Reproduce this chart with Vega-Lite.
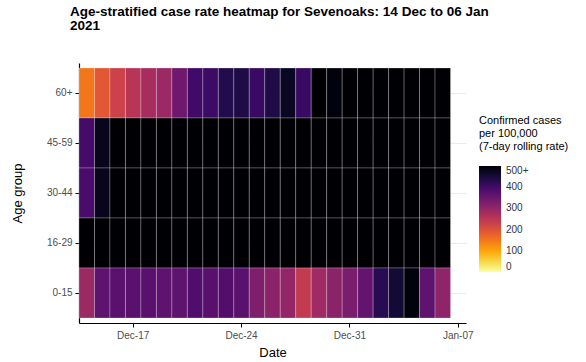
{
  "$schema": "https://vega.github.io/schema/vega-lite/v6.json",
  "width": 387,
  "height": 260,
  "autosize": {"type": "none"},
  "padding": {"left": 79, "top": 63, "right": 120, "bottom": 39},
  "background": "white",
  "config": {
    "view": {"stroke": null},
    "font": "Liberation Sans"
  },
  "title": {
    "text": ["Age-stratified case rate heatmap for Sevenoaks: 14 Dec to 06 Jan", "2021"],
    "anchor": "start",
    "frame": "group",
    "dx": -9,
    "offset": 31,
    "fontSize": 13.5,
    "fontWeight": "bold",
    "lineHeight": 13.5,
    "color": "black",
    "font": "Liberation Sans"
  },
  "datasets": {
    "cases": [
      {"date":"Dec-14","age":"60+","rate":150},{"date":"Dec-15","age":"60+","rate":190},{"date":"Dec-16","age":"60+","rate":225},{"date":"Dec-17","age":"60+","rate":255},{"date":"Dec-18","age":"60+","rate":275},{"date":"Dec-19","age":"60+","rate":290},{"date":"Dec-20","age":"60+","rate":345},{"date":"Dec-21","age":"60+","rate":400},{"date":"Dec-22","age":"60+","rate":405},{"date":"Dec-23","age":"60+","rate":435},{"date":"Dec-24","age":"60+","rate":440},{"date":"Dec-25","age":"60+","rate":410},{"date":"Dec-26","age":"60+","rate":440},{"date":"Dec-27","age":"60+","rate":470},{"date":"Dec-28","age":"60+","rate":410},{"date":"Dec-29","age":"60+","rate":520},{"date":"Dec-30","age":"60+","rate":490},{"date":"Dec-31","age":"60+","rate":530},{"date":"Jan-01","age":"60+","rate":545},{"date":"Jan-02","age":"60+","rate":560},{"date":"Jan-03","age":"60+","rate":575},{"date":"Jan-04","age":"60+","rate":560},{"date":"Jan-05","age":"60+","rate":540},{"date":"Jan-06","age":"60+","rate":530},
      {"date":"Dec-14","age":"45-59","rate":395},{"date":"Dec-15","age":"45-59","rate":475},{"date":"Dec-16","age":"45-59","rate":540},{"date":"Dec-17","age":"45-59","rate":600},{"date":"Dec-18","age":"45-59","rate":650},{"date":"Dec-19","age":"45-59","rate":700},{"date":"Dec-20","age":"45-59","rate":740},{"date":"Dec-21","age":"45-59","rate":780},{"date":"Dec-22","age":"45-59","rate":800},{"date":"Dec-23","age":"45-59","rate":820},{"date":"Dec-24","age":"45-59","rate":850},{"date":"Dec-25","age":"45-59","rate":870},{"date":"Dec-26","age":"45-59","rate":880},{"date":"Dec-27","age":"45-59","rate":890},{"date":"Dec-28","age":"45-59","rate":900},{"date":"Dec-29","age":"45-59","rate":910},{"date":"Dec-30","age":"45-59","rate":900},{"date":"Dec-31","age":"45-59","rate":880},{"date":"Jan-01","age":"45-59","rate":860},{"date":"Jan-02","age":"45-59","rate":840},{"date":"Jan-03","age":"45-59","rate":800},{"date":"Jan-04","age":"45-59","rate":760},{"date":"Jan-05","age":"45-59","rate":720},{"date":"Jan-06","age":"45-59","rate":690},
      {"date":"Dec-14","age":"30-44","rate":390},{"date":"Dec-15","age":"30-44","rate":475},{"date":"Dec-16","age":"30-44","rate":545},{"date":"Dec-17","age":"30-44","rate":610},{"date":"Dec-18","age":"30-44","rate":660},{"date":"Dec-19","age":"30-44","rate":710},{"date":"Dec-20","age":"30-44","rate":750},{"date":"Dec-21","age":"30-44","rate":790},{"date":"Dec-22","age":"30-44","rate":820},{"date":"Dec-23","age":"30-44","rate":840},{"date":"Dec-24","age":"30-44","rate":860},{"date":"Dec-25","age":"30-44","rate":880},{"date":"Dec-26","age":"30-44","rate":900},{"date":"Dec-27","age":"30-44","rate":910},{"date":"Dec-28","age":"30-44","rate":920},{"date":"Dec-29","age":"30-44","rate":930},{"date":"Dec-30","age":"30-44","rate":920},{"date":"Dec-31","age":"30-44","rate":900},{"date":"Jan-01","age":"30-44","rate":870},{"date":"Jan-02","age":"30-44","rate":840},{"date":"Jan-03","age":"30-44","rate":800},{"date":"Jan-04","age":"30-44","rate":760},{"date":"Jan-05","age":"30-44","rate":730},{"date":"Jan-06","age":"30-44","rate":700},
      {"date":"Dec-14","age":"16-29","rate":620},{"date":"Dec-15","age":"16-29","rate":680},{"date":"Dec-16","age":"16-29","rate":740},{"date":"Dec-17","age":"16-29","rate":800},{"date":"Dec-18","age":"16-29","rate":860},{"date":"Dec-19","age":"16-29","rate":920},{"date":"Dec-20","age":"16-29","rate":980},{"date":"Dec-21","age":"16-29","rate":1020},{"date":"Dec-22","age":"16-29","rate":1060},{"date":"Dec-23","age":"16-29","rate":1090},{"date":"Dec-24","age":"16-29","rate":1110},{"date":"Dec-25","age":"16-29","rate":1120},{"date":"Dec-26","age":"16-29","rate":1130},{"date":"Dec-27","age":"16-29","rate":1140},{"date":"Dec-28","age":"16-29","rate":1130},{"date":"Dec-29","age":"16-29","rate":1110},{"date":"Dec-30","age":"16-29","rate":1080},{"date":"Dec-31","age":"16-29","rate":1040},{"date":"Jan-01","age":"16-29","rate":990},{"date":"Jan-02","age":"16-29","rate":940},{"date":"Jan-03","age":"16-29","rate":880},{"date":"Jan-04","age":"16-29","rate":830},{"date":"Jan-05","age":"16-29","rate":780},{"date":"Jan-06","age":"16-29","rate":740},
      {"date":"Dec-14","age":"0-15","rate":290},{"date":"Dec-15","age":"0-15","rate":365},{"date":"Dec-16","age":"0-15","rate":370},{"date":"Dec-17","age":"0-15","rate":370},{"date":"Dec-18","age":"0-15","rate":370},{"date":"Dec-19","age":"0-15","rate":365},{"date":"Dec-20","age":"0-15","rate":365},{"date":"Dec-21","age":"0-15","rate":385},{"date":"Dec-22","age":"0-15","rate":372},{"date":"Dec-23","age":"0-15","rate":380},{"date":"Dec-24","age":"0-15","rate":370},{"date":"Dec-25","age":"0-15","rate":325},{"date":"Dec-26","age":"0-15","rate":310},{"date":"Dec-27","age":"0-15","rate":300},{"date":"Dec-28","age":"0-15","rate":240},{"date":"Dec-29","age":"0-15","rate":285},{"date":"Dec-30","age":"0-15","rate":310},{"date":"Dec-31","age":"0-15","rate":330},{"date":"Jan-01","age":"0-15","rate":360},{"date":"Jan-02","age":"0-15","rate":430},{"date":"Jan-03","age":"0-15","rate":455},{"date":"Jan-04","age":"0-15","rate":490},{"date":"Jan-05","age":"0-15","rate":365},{"date":"Jan-06","age":"0-15","rate":305}
    ]
  },
  "data": {"name": "cases"},
  "mark": {"type": "rect", "stroke": "white", "strokeOpacity": 0.3, "strokeWidth": 0.8, "opacity": 1},
  "encoding": {
    "x": {
      "field": "date",
      "type": "ordinal",
      "title": "Date",
      "scale": {
        "domain": ["Dec-14","Dec-15","Dec-16","Dec-17","Dec-18","Dec-19","Dec-20","Dec-21","Dec-22","Dec-23","Dec-24","Dec-25","Dec-26","Dec-27","Dec-28","Dec-29","Dec-30","Dec-31","Jan-01","Jan-02","Jan-03","Jan-04","Jan-05","Jan-06","Jan-07"],
        "paddingInner": 0,
        "paddingOuter": 0
      },
      "axis": {
        "values": ["Dec-17","Dec-24","Dec-31","Jan-07"],
        "labelAngle": 0,
        "labelFontSize": 10,
        "labelColor": "#4d4d4d",
        "labelPadding": 3,
        "tickColor": "black",
        "tickSize": 4,
        "domainColor": "black",
        "domainWidth": 1.2,
        "grid": false,
        "titleFontSize": 13,
        "titleFontWeight": "normal",
        "titleColor": "black",
        "titlePadding": 6
      }
    },
    "y": {
      "field": "age",
      "type": "ordinal",
      "title": "Age group",
      "scale": {
        "domain": ["60+","45-59","30-44","16-29","0-15"],
        "paddingInner": 0,
        "paddingOuter": 0.1
      },
      "axis": {
        "zindex": 0,
        "labelFontSize": 10,
        "labelColor": "#4d4d4d",
        "labelPadding": 3,
        "tickColor": "black",
        "tickSize": 4,
        "domainColor": "black",
        "domainWidth": 1.2,
        "grid": true,
        "gridColor": "#ebebeb",
        "titleFontSize": 13,
        "titleFontWeight": "normal",
        "titleColor": "black",
        "titlePadding": 22
      }
    },
    "color": {
      "field": "rate",
      "type": "quantitative",
      "title": ["Confirmed cases", " per 100,000", " (7-day rolling rate)"],
      "scale": {"scheme": "inferno", "reverse": true, "domain": [0, 500], "clamp": true},
      "legend": {
        "orient": "none",
        "legendX": 400,
        "legendY": 52,
        "direction": "vertical",
        "gradientLength": 106,
        "gradientThickness": 22,
        "gradientStrokeWidth": 0,
        "values": [0, 100, 200, 300, 400, 500],
        "labelExpr": "datum.value == 500 ? '500+' : datum.label",
        "labelFontSize": 10,
        "labelColor": "#333333",
        "labelOffset": 5,
        "titleFontSize": 11,
        "titleFontWeight": "normal",
        "titleColor": "black",
        "titleLineHeight": 13,
        "titlePadding": 14
      }
    }
  }
}
